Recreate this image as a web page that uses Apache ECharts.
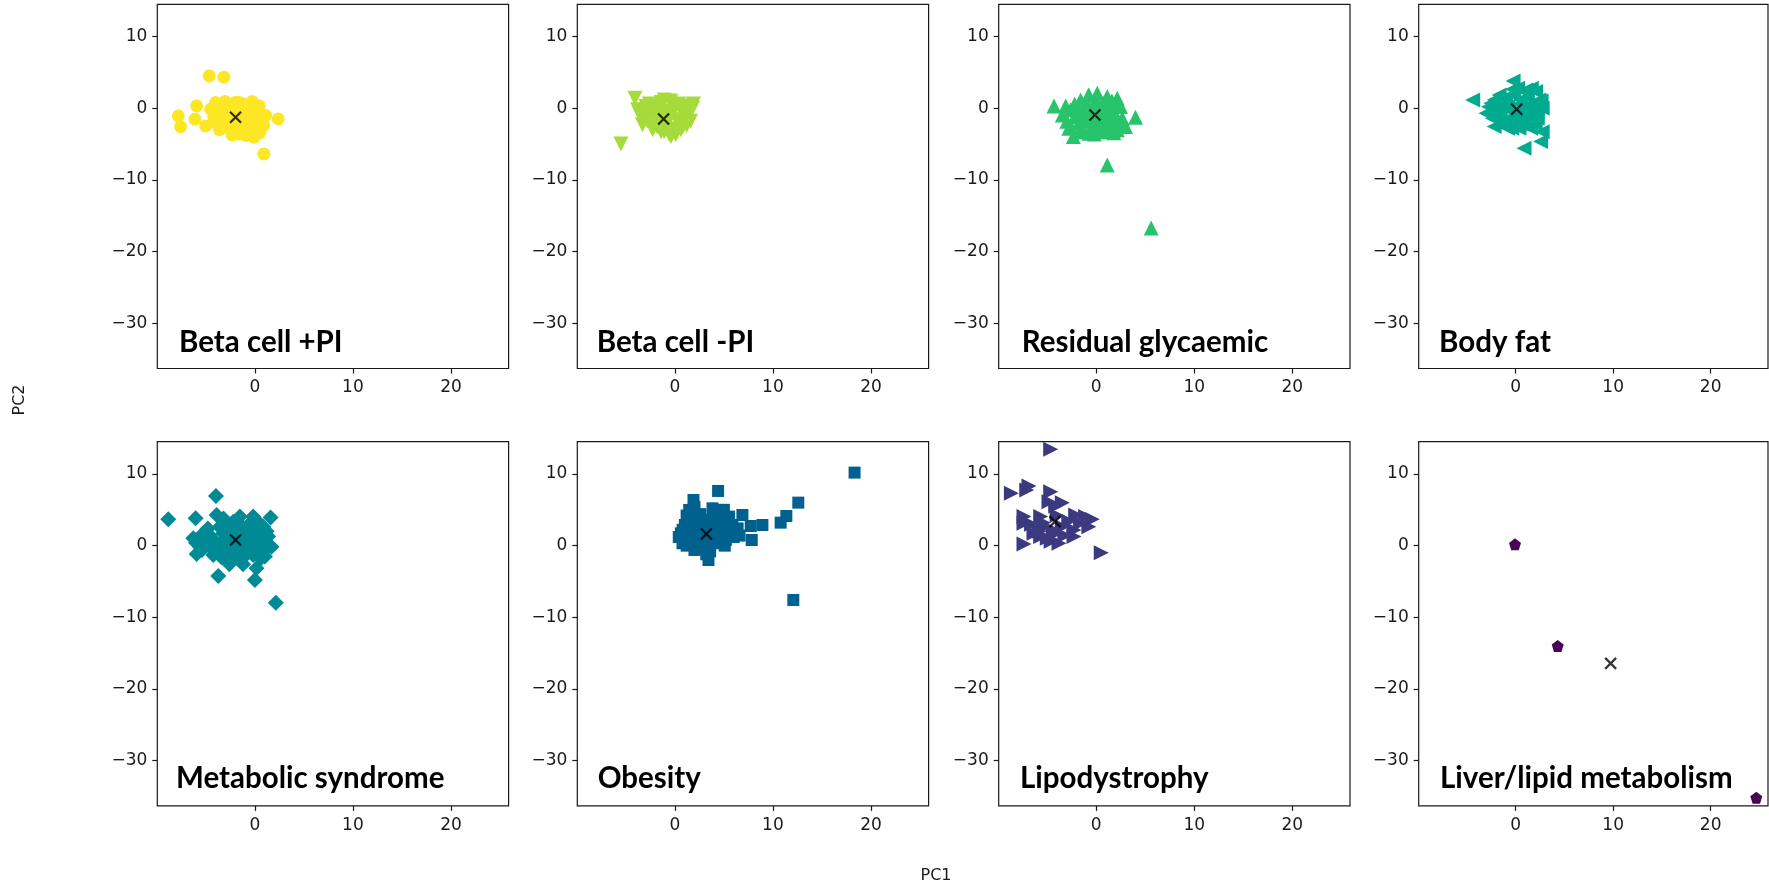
<!DOCTYPE html>
<html><head><meta charset="utf-8">
<script src="https://cdn.jsdelivr.net/npm/echarts@6/dist/echarts.min.js"></script>
<style>html,body{margin:0;padding:0;background:#fff}#c{width:1769px;height:886px}</style>
</head><body><div id="c"></div>
<script>
// ---- DATA (PC1, PC2) ----
const panelNames = ['Beta cell +PI','Beta cell -PI','Residual glycaemic','Body fat',
  'Metabolic syndrome','Obesity','Lipodystrophy','Liver/lipid metabolism'];
const panelColors = ['#fde725','#a5db3a','#28c46b','#00aa8e','#008a96','#00608e','#3b3980','#4a0356'];
const xTicks = [0, 10, 20];
const yTicks = [-30, -20, -10, 0, 10];

const betaCellPlusPI = [[-4.65,4.51],[-3.16,4.33],[-5.94,0.33],[-7.81,-1.07],[-7.57,-2.56],[-6.11,-1.53],[-5.02,-2.47],[-4.51,-0.14],[-3.97,-2.0],[-3.05,0.93],[-2.31,-3.72],[-1.6,0.79],[-0.27,0.93],[0.44,0.33],[0.68,-1.4],[2.38,-1.49],[-0.07,-4.05],[0.92,-6.37],[-0.85,-2.1],[0.17,-2.8],[-2,-1],[-1.5,-2],[-1,-0.5],[-2.5,-0.3],[-3,-1.5],[-0.5,-1.8],[0,-0.8],[-1.2,-3],[-2.8,-2.7],[-3.5,-0.8],[-0.3,-3.3],[0.3,-1.9],[-1.8,0.2],
  [-4.2,-1.2],[-3.8,0.4],[-3.3,-2.2],[-2.7,-1.2],[-2.2,-2.4],[-2.0,0.8],[-1.4,-0.8],[-1.0,-1.6],[-0.6,-2.6],[-0.4,0.2],[0.2,-0.2],[0.6,-0.8],[0.9,-2.4],[-1.6,-3.6],[-2.6,0.4],[-4.0,0.8],[-3.6,-3.0],[-0.9,-3.8],[0.5,-3.4],[1.1,-1.0],[-1.9,-2.9],[-2.9,-0.1],[-0.2,-1.2],[-1.2,0.6],[-3.3,-1.0]];
const betaCellMinusPI = [[-4.07,1.4],[-5.5,-4.98],[-1.09,1.16],[1.29,0.33],[1.8,0],[0.1,-3.7],[-0.4,-3.95],[-2.27,-3.0],[-3.3,-2.3],[-3.63,-0.7],[-2.95,0.23],[-1.93,0.33],[-0.24,0.23],[0.61,-0.23],[1.12,-1.16],[0.44,-2.1],[-0.92,-2.56],[-1.6,-1.63],[-2.44,-0.93],[-0.58,-0.93],[-1.09,-3.26],[0.61,-3.0],[1.46,-0.7],
  [-3.8,-0.2],[-3.4,-1.4],[-2.8,-1.8],[-2.6,0.6],[-2.2,-0.2],[-1.8,-2.6],[-1.4,0.8],[-1.2,-0.4],[-0.8,-1.8],[-0.4,1.0],[-0.2,-0.6],[0.2,-1.6],[0.4,0.6],[0.8,-2.6],[1.0,0.0],[1.6,-1.8],[1.9,0.6],[0.0,-2.9],[-1.4,-3.3],[-2.0,-1.2],[-3.0,-0.6],[1.2,-2.4],[-0.6,-3.6]];
const residualGlycaemic = [[-4.31,0.33],[-3.12,0.33],[-3.46,-0.93],[4.0,-1.26],[1.12,-7.9],[5.6,-16.7],[-2.34,-3.95],[2.99,-2.56],[2.14,1.4],[0.1,2.1],[-0.75,1.86],[1.12,1.63],[-1.6,1.16],[2.48,0.23],[2.65,-1.4],[2.14,-3.0],[1.12,-3.26],[-0.75,-3.49],[-1.6,-3.26],[-2.61,-2.56],[-2.1,-0.93],[-1.26,-0.23],[-0.24,0.23],[0.78,0],[1.63,-0.7],[0.1,-1.86],[-0.92,-1.63],[1.12,-1.86],[1.97,-1.86],[-1.77,-2.1],[0.1,-3.0],
  [-3.0,-1.8],[-2.6,-0.2],[-2.2,0.6],[-1.8,-1.2],[-1.4,-2.8],[-1.0,0.8],[-0.6,-0.8],[-0.4,-2.4],[0.0,1.2],[0.4,-1.0],[0.6,-3.2],[0.8,0.8],[1.2,-0.6],[1.4,-2.6],[1.6,1.0],[2.0,-1.0],[2.4,-2.2],[2.2,0.6],[-0.2,-3.6],[0.8,-2.0],[-1.2,-1.8],[-2.8,-2.8],[1.8,-3.4],[-0.8,1.8]];
const bodyFat = [[-4.41,1.16],[-0.27,3.81],[0.85,-5.58],[2.55,-4.65],[2.72,-3.26],[-2.21,-2.56],[-3.05,-0.7],[1.53,-2.79],[2.38,1.16],[2.72,0],[2.04,2.33],[1.02,2.56],[-0.34,2.65],[-1.7,1.86],[-2.55,0.7],[-2.04,-0.7],[-1.02,-1.63],[0,-2.1],[0.85,-1.4],[1.7,-0.7],[-1.02,0.7],[0.51,1.16],[1.02,0.23],[-0.68,-0.23],[-1.53,0.23],[2.21,-1.4],[0.34,-2.79],[-0.85,-2.79],
  [-2.8,0.2],[-2.4,-1.4],[-2.2,1.2],[-1.8,-0.2],[-1.4,-2.2],[-1.2,1.4],[-0.8,0.2],[-0.4,-1.2],[-0.2,1.8],[0.2,-0.6],[0.4,0.6],[0.6,-2.2],[1.2,1.6],[1.4,-1.2],[1.8,0.4],[2.2,-0.4],[2.6,1.0],[1.0,-0.2],[-0.4,-2.8],[-1.6,-1.0],[2.0,-2.2],[1.6,2.8],[0.2,2.8]];
const metabolicSyndrome = [[-8.83,3.67],[-3.97,6.93],[-6.04,3.81],[1.6,3.91],[-5.94,-1.16],[-3.73,-4.23],[0,-4.79],[0.17,-3.16],[1.02,-1.53],[2.14,-7.95],[1.7,-0.14],[-6.28,1.02],[-3.9,4.28],[-1.53,4.05],[-0.17,4.05],[-2.21,3.35],[0.85,2.65],[1.36,1.26],[-5.26,1.72],[-4.58,-0.14],[-4.24,-1.3],[-2.89,-2.0],[-1.53,-2.0],[-0.17,-1.3],[0.51,-0.14],[-2.21,0.33],[-0.85,1.72],[-3.22,1.72],[-3.56,0.33],[-0.85,-0.6],[-2.21,-1.07],[-1.87,2.19],[0.17,2.19],[-5.6,-0.14],
  [-6.0,0.4],[-5.4,-0.6],[-5.0,0.6],[-4.8,2.4],[-4.2,0.8],[-4.0,-0.6],[-3.6,2.6],[-3.4,-1.6],[-3.0,0.0],[-2.8,3.0],[-2.6,1.2],[-2.4,-1.8],[-2.0,-0.6],[-1.8,1.2],[-1.4,2.8],[-1.2,0.0],[-1.0,-1.4],[-0.6,3.0],[-0.4,0.8],[-0.2,-0.4],[0.2,1.4],[0.4,3.2],[0.8,0.4],[1.0,-0.6],[1.2,2.0],[-2.6,-2.6],[-1.2,-2.6],[-3.2,3.8],[-2.0,2.2],[-0.8,-0.2],[0.0,0.4],[-4.6,1.4],[-1.6,-1.0],[0.6,-1.8]];
const obesity = [[18.33,10.19],[12.08,-7.58],[12.59,6.0],[11.37,4.14],[10.79,3.21],[8.93,2.88],[7.84,0.79],[7.74,2.74],[6.89,4.28],[4.41,7.63],[1.9,6.37],[1.46,4.98],[3.43,-2.0],[5.09,0],[6.21,1.95],[3.84,5.21],[5.53,4.05],[0.61,1.72],[0.78,0.33],[2.31,-0.37],[3.5,-0.37],[4.51,0.33],[5.53,1.72],[4.34,3.12],[3.16,3.58],[2.14,3.81],[1.02,2.88],[2.48,1.49],[3.84,1.49],[1.63,1.02],[2.99,0.56],[4.85,2.19],[2.82,2.19],[5.87,2.88],
  [0.4,1.2],[0.8,2.2],[1.2,0.0],[1.4,3.4],[1.8,1.8],[2.0,-0.6],[2.2,2.8],[2.6,0.2],[2.6,4.4],[3.0,1.6],[3.4,3.0],[3.6,-0.8],[3.8,0.8],[4.0,4.2],[4.2,2.2],[4.6,1.2],[4.8,3.6],[5.2,0.8],[5.4,2.6],[6.0,1.2],[6.4,2.4],[6.6,1.4],[2.0,5.4],[3.2,-1.2],[1.2,4.2],[5.0,5.0]];
const lipodystrophy = [[-4.65,13.44],[-8.66,7.3],[-7.09,7.77],[-6.86,8.33],[-4.65,7.53],[-4.82,6.14],[-3.46,6.0],[-4.14,5.53],[-7.37,4.05],[-7.37,3.12],[-5.67,4.05],[-2.1,4.28],[-1.09,4.05],[-0.41,3.67],[-0.75,2.65],[-2.27,2.19],[-2.27,1.26],[-6.35,1.72],[-5.67,1.26],[-4.99,1.02],[-4.14,1.72],[-3.8,0.33],[-7.37,0.23],[0.51,-0.98],[-5.33,2.65],[-3.46,2.65],[-1.6,3.12],
  [-5.4,3.2],[-4.4,2.2],[-3.2,1.4],[-5.8,2.0],[-4.6,0.6],[-2.8,3.4],[-6.6,3.0],[-4.0,4.2]];
const liverLipidMetabolism = [[-0.07,0.19],[4.31,-14.0],[24.68,-35.16]];
const centroids = [[-1.97,-1.26],[-1.15,-1.49],[-0.14,-0.93],[0.1,-0.14],[-1.97,0.79],[3.22,1.63],[-4.21,3.35],[9.74,-16.42]];

const groups = [betaCellPlusPI, betaCellMinusPI, residualGlycaemic, bodyFat,
  metabolicSyndrome, obesity, lipodystrophy, liverLipidMetabolism];

// ---- STYLE / LAYOUT ----
const PENT = 'path://M0,-1L0.951,-0.309L0.588,0.809L-0.588,0.809L-0.951,-0.309Z';
const CROSS = 'path://M0,0L10,10M10,0L0,10';
const markers = [
  {symbol:'circle', size:13, rot:0},
  {symbol:'triangle', size:15, rot:180},
  {symbol:'triangle', size:15, rot:0},
  {symbol:'triangle', size:15, rot:90},
  {symbol:'diamond', size:16, rot:0},
  {symbol:'rect', size:12, rot:0},
  {symbol:'triangle', size:15, rot:-90},
  {symbol:PENT, size:12, rot:0}
];
const lefts = [157.3, 577.3, 998.7, 1418.7];
const tops = [4.3, 441.7];
const W = 351.3, H = 364.2;

const grids = [], xAxes = [], yAxes = [], series = [], graphics = [];
const labelFont = 'DejaVu Sans';
const minus = v => String(v).replace('-', '\u2212');
for (let i = 0; i < 8; i++) {
  const r = Math.floor(i / 4), c = i % 4;
  const w = (c === 3) ? 349.3 : W;
  grids.push({left: lefts[c], top: tops[r], width: w, height: H,
    show: true, borderColor: '#1a1a1a', borderWidth: 1.2, backgroundColor: '#fff'});
  xAxes.push({type:'value', gridIndex:i, min:-9.95, max:25.88,
    splitLine:{show:false}, axisLine:{show:false, onZero:false},
    axisTick:{show:true, length:5, lineStyle:{color:'#1a1a1a', width:1.2}, customValues:xTicks},
    axisLabel:{color:'#1a1a1a', fontFamily:labelFont, fontSize:17, margin:11, customValues:xTicks, formatter:minus}});
  yAxes.push({type:'value', gridIndex:i, min:-36.3, max:14.5,
    splitLine:{show:false}, axisLine:{show:false, onZero:false},
    axisTick:{show:true, length:5, lineStyle:{color:'#1a1a1a', width:1.2}, customValues:yTicks},
    axisLabel:{color:'#1a1a1a', fontFamily:labelFont, fontSize:17, margin:10, customValues:yTicks, formatter:minus}});
  const m = markers[i];
  series.push({type:'scatter', xAxisIndex:i, yAxisIndex:i, data:groups[i],
    symbol:m.symbol, symbolSize:m.size, symbolRotate:m.rot, z:2,
    itemStyle:{color:panelColors[i], opacity:1}, emphasis:{disabled:true}});
  series.push({type:'scatter', xAxisIndex:i, yAxisIndex:i, data:[centroids[i]],
    symbol:CROSS, symbolSize:11, z:5,
    itemStyle:{color:'rgba(0,0,0,0)', borderColor:'#000', borderWidth:2.2}, emphasis:{disabled:true}});
}
const labelPos = [[179,350.7],[596.7,350.7],[1021.7,350.7],[1439,350.7],
                  [176,787],[597.7,787],[1020,787],[1440,787]];
for (let i = 0; i < 8; i++) {
  graphics.push({type:'text', left:labelPos[i][0], top:labelPos[i][1]-23.6, z:100,
    style:{text:panelNames[i], fill:'#000', font:'bold 29.5px Lato', textBaseline:'top'}});
}
graphics.push({type:'text', x:936, y:876, z:100,
  style:{text:'PC1', fill:'#1a1a1a', font:'16px "DejaVu Sans"', align:'center', verticalAlign:'middle'}});
graphics.push({type:'text', x:20, y:400, rotation:Math.PI/2, z:100,
  style:{text:'PC2', fill:'#1a1a1a', font:'16px "DejaVu Sans"', align:'center', verticalAlign:'middle'}});

const chart = echarts.init(document.getElementById('c'), null, {renderer:'canvas'});
chart.setOption({animation:false, backgroundColor:'#fff', grid:grids, xAxis:xAxes, yAxis:yAxes, series:series, graphic:graphics});
</script></body></html>
